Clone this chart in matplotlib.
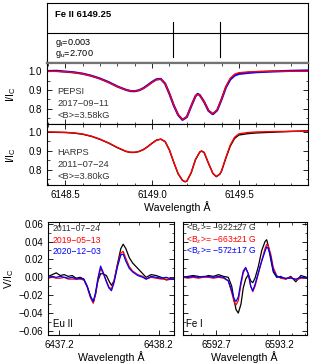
import matplotlib
matplotlib.use("Agg")
import matplotlib.pyplot as plt
import matplotlib as mpl
from matplotlib.ticker import MultipleLocator, NullFormatter

mpl.rcParams.update({
    "font.family": ["Liberation Sans", "DejaVu Sans"],
    "mathtext.fontset": "custom",
    "mathtext.rm": "Liberation Sans",
    "mathtext.it": "Liberation Sans",
    "font.size": 7,
    "axes.linewidth": 0.8,
    "xtick.direction": "in",
    "ytick.direction": "in",
    "xtick.top": True,
    "ytick.right": True,
    "xtick.major.size": 3.5,
    "ytick.major.size": 3.5,
    "xtick.minor.size": 1.8,
    "ytick.minor.size": 1.8,
    "xtick.major.width": 0.6,
    "ytick.major.width": 0.6,
    "xtick.minor.width": 0.5,
    "ytick.minor.width": 0.5,
    "xtick.labelsize": 7,
    "ytick.labelsize": 7,
    "axes.labelsize": 7.7,
})

# ------------------- data -------------------
zeeman_marks = [6149.122, 6149.392]

wl_pepsi = [6148.40, 6148.45, 6148.50, 6148.55, 6148.60, 6148.65, 6148.70, 6148.75,
            6148.80, 6148.85, 6148.875, 6148.90, 6148.925, 6148.95, 6148.975, 6149.00,
            6149.025, 6149.05, 6149.075, 6149.10, 6149.125, 6149.15, 6149.175, 6149.20,
            6149.225, 6149.25, 6149.2625, 6149.275, 6149.30, 6149.325, 6149.35, 6149.375,
            6149.40, 6149.425, 6149.45, 6149.475, 6149.50, 6149.55, 6149.60, 6149.65,
            6149.70, 6149.80, 6149.90]
model_pepsi = [1.000, 0.999, 0.997, 0.993, 0.986, 0.975, 0.960, 0.940,
               0.918, 0.901, 0.896, 0.895, 0.899, 0.909, 0.924, 0.941,
               0.955, 0.958, 0.935, 0.882, 0.820, 0.770, 0.744, 0.758,
               0.815, 0.869, 0.878, 0.872, 0.838, 0.792, 0.774, 0.795,
               0.852, 0.918, 0.962, 0.984, 0.992, 0.996, 0.998, 0.999,
               1.000, 1.000, 1.000]
obs_pepsi = [1.001, 1.002, 0.998, 0.994, 0.987, 0.976, 0.961, 0.942,
             0.919, 0.901, 0.895, 0.894, 0.899, 0.910, 0.926, 0.943,
             0.957, 0.959, 0.934, 0.880, 0.818, 0.768, 0.742, 0.757,
             0.814, 0.868, 0.880, 0.873, 0.837, 0.790, 0.772, 0.793,
             0.850, 0.914, 0.956, 0.977, 0.986, 0.991, 0.995, 0.997,
             0.999, 1.002, 1.004]

wl_harps = [6148.40, 6148.50, 6148.55, 6148.60, 6148.65, 6148.70, 6148.75, 6148.80,
            6148.85, 6148.875, 6148.90, 6148.925, 6148.95, 6148.975, 6149.00, 6149.025,
            6149.05, 6149.075, 6149.10, 6149.125, 6149.15, 6149.175, 6149.19, 6149.20,
            6149.225, 6149.25, 6149.275, 6149.285, 6149.30, 6149.325, 6149.35, 6149.37,
            6149.39, 6149.40, 6149.425, 6149.45, 6149.475, 6149.50, 6149.55, 6149.60,
            6149.70, 6149.80, 6149.90]
model_harps = [1.000, 0.998, 0.995, 0.989, 0.978, 0.962, 0.942, 0.918,
               0.898, 0.893, 0.893, 0.897, 0.907, 0.922, 0.940, 0.956,
               0.962, 0.950, 0.905, 0.840, 0.780, 0.745, 0.738, 0.741,
               0.785, 0.855, 0.895, 0.900, 0.892, 0.835, 0.782, 0.765,
               0.778, 0.795, 0.865, 0.930, 0.972, 0.990, 0.997, 1.000,
               1.002, 1.003, 1.004]
obs_harps = [0.999, 0.997, 0.994, 0.988, 0.977, 0.961, 0.941, 0.917,
             0.897, 0.892, 0.892, 0.897, 0.907, 0.923, 0.941, 0.957,
             0.962, 0.949, 0.904, 0.839, 0.779, 0.744, 0.737, 0.740,
             0.784, 0.854, 0.894, 0.899, 0.891, 0.834, 0.781, 0.764,
             0.777, 0.793, 0.862, 0.925, 0.966, 0.984, 0.991, 0.995,
             0.999, 1.003, 1.006]

wl_eu = [6437.09, 6437.13, 6437.17, 6437.21, 6437.25, 6437.29, 6437.33, 6437.37,
         6437.41, 6437.447, 6437.481, 6437.515, 6437.542, 6437.565, 6437.589, 6437.616,
         6437.64, 6437.674, 6437.70, 6437.725, 6437.751, 6437.786, 6437.819, 6437.843,
         6437.87, 6437.904, 6437.938, 6437.989, 6438.04, 6438.073, 6438.124, 6438.175,
         6438.225, 6438.276, 6438.327, 6438.354]
v_eu_2011 = [0.001, 0.003, 0.005, 0.002, 0.003, 0.001, 0.002, -0.001,
             0.000, -0.002, -0.010, -0.021, -0.028, -0.019, -0.004, 0.004,
             0.004, 0.002, -0.004, -0.009, -0.004, 0.015, 0.032, 0.037,
             0.032, 0.022, 0.016, 0.010, 0.004, 0.000, 0.003, 0.002,
             0.000, -0.003, -0.002, -0.002]
v_eu_2019 = [-0.001, 0.000, -0.001, -0.001, 0.000, -0.002, -0.002, -0.002,
             -0.002, -0.003, -0.011, -0.023, -0.029, -0.019, -0.003, 0.010,
             0.005, -0.004, -0.011, -0.013, -0.004, 0.014, 0.027, 0.029,
             0.021, 0.012, 0.007, 0.003, 0.001, -0.002, 0.000, -0.001,
             -0.002, -0.002, -0.002, -0.001]
v_eu_2020 = [0.000, 0.001, 0.000, 0.001, 0.000, -0.001, 0.000, -0.002,
             -0.001, -0.002, -0.010, -0.022, -0.027, -0.017, -0.001, 0.0125,
             0.006, -0.005, -0.012, -0.015, -0.006, 0.012, 0.025, 0.026,
             0.018, 0.010, 0.006, 0.002, 0.000, -0.002, 0.001, 0.000,
             -0.001, 0.000, -0.002, -0.002]

wl_fe = [6592.44, 6592.48, 6592.52, 6592.56, 6592.60, 6592.64, 6592.68, 6592.72,
         6592.76, 6592.797, 6592.824, 6592.842, 6592.858, 6592.876, 6592.897, 6592.915,
         6592.934, 6592.955, 6592.974, 6592.99, 6593.008, 6593.034, 6593.061, 6593.087,
         6593.10, 6593.113, 6593.132, 6593.152, 6593.179, 6593.21, 6593.25, 6593.29,
         6593.33, 6593.37, 6593.416]
v_fe_2011 = [0.000, 0.001, 0.002, 0.001, 0.000, 0.002, 0.001, 0.003,
             0.001, 0.000, -0.010, -0.025, -0.036, -0.040, -0.030, -0.012,
             -0.002, 0.003, -0.004, -0.006, -0.001, 0.012, 0.030, 0.040,
             0.042, 0.035, 0.020, 0.006, 0.000, 0.001, -0.002, 0.001,
             -0.005, 0.002, 0.000]
v_fe_2019 = [0.000, -0.001, 0.000, -0.001, 0.000, 0.000, -0.001, 0.000,
             -0.001, -0.004, -0.017, -0.027, -0.031, -0.026, -0.008, 0.005,
             0.010, 0.004, -0.010, -0.016, -0.010, 0.004, 0.019, 0.032,
             0.037, 0.035, 0.026, 0.011, 0.002, -0.001, -0.002, 0.000,
             -0.003, -0.001, -0.001]
v_fe_2020 = [0.001, 0.000, 0.001, 0.000, 0.001, 0.001, 0.000, 0.001,
             0.000, -0.004, -0.015, -0.024, -0.027, -0.022, -0.005, 0.007,
             0.011, 0.004, -0.010, -0.015, -0.008, 0.005, 0.018, 0.029,
             0.034, 0.032, 0.023, 0.008, 0.001, 0.000, -0.001, -0.001,
             -0.002, 0.000, -0.001]

dates = ["2011\u221207\u221224", "2019\u221205\u221213", "2020\u221212\u221203"]
bz_labels = ["\u2212922\u00b127 G", "\u2212663\u00b121 G", "\u2212572\u00b117 G"]
colors = ["black", "red", "blue"]
TXT = "0.2"

# ------------------- figure -------------------
fig = plt.figure(figsize=(3.12, 3.63), dpi=100)
W, H = 312.0, 363.0

def box(x0, y0, x1, y1):
    return [x0 / W, 1 - y1 / H, (x1 - x0) / W, (y1 - y0) / H]

ax0 = fig.add_axes(box(46.7, 3.3, 308, 63.3))
ax1 = fig.add_axes(box(46.7, 63.3, 308, 124))
ax2 = fig.add_axes(box(46.7, 124, 308, 185))
ax3 = fig.add_axes(box(48.3, 222.3, 174, 335))
ax4 = fig.add_axes(box(182.7, 222.3, 306.7, 335))

XL = (6148.393, 6149.898)

# header box with Zeeman components
ax0.set_xlim(*XL)
ax0.set_ylim(0, 1)
ax0.set_xticks([]); ax0.set_yticks([])
ax0.axhline(0.5, color="black", lw=0.8)
for w in zeeman_marks:
    ax0.axvline(w, ymin=0.10, ymax=0.693, color="black", lw=0.8)
ax0.spines["bottom"].set_color("0.45")
ax0.spines["bottom"].set_linewidth(1.6)
ax0.text(0.032, 0.82, "Fe II 6149.25", transform=ax0.transAxes, fontsize=6.8,
         fontweight="bold", va="center", ha="left")
ax0.text(0.032, 0.335, r"g$_\mathrm{l}$=0.003", transform=ax0.transAxes, fontsize=6.6,
         va="center", ha="left")
ax0.text(0.032, 0.15, r"g$_\mathrm{u}$=2.700", transform=ax0.transAxes, fontsize=6.6,
         va="center", ha="left")

# intensity panels
for ax, wl, obs, mod, oc, olw, lines in [
        (ax1, wl_pepsi, obs_pepsi, model_pepsi, "blue", 1.6,
         ["PEPSI", "2017\u221209\u221211", "<B>=3.58kG"]),
        (ax2, wl_harps, obs_harps, model_harps, "black", 1.0,
         ["HARPS", "2011\u221207\u221224", "<B>=3.80kG"])]:
    ax.plot(wl, obs, color=oc, lw=olw)
    ax.plot(wl, mod, color="red", lw=1.0)
    ax.set_xlim(*XL)
    ax.set_ylim(0.72, 1.042)
    ax.xaxis.set_major_locator(MultipleLocator(0.5))
    ax.xaxis.set_minor_locator(MultipleLocator(0.1))
    ax.yaxis.set_major_locator(MultipleLocator(0.1))
    ax.yaxis.set_minor_locator(MultipleLocator(0.05))
    ax.set_ylabel(r"I/I$_\mathrm{C}$")
    ax.yaxis.set_label_coords(-0.108, 0.5)
    for k, s in enumerate(lines):
        ax.text(0.04, 0.53 - 0.198 * k, s, transform=ax.transAxes, color=TXT,
                fontsize=6.7, va="center", ha="left")
ax1.spines["top"].set_color("0.45")
ax1.spines["top"].set_linewidth(1.6)
ax1.xaxis.set_major_formatter(NullFormatter())
ax2.set_xlabel("Wavelength \u00c5", labelpad=1)

# Stokes V panels
for ax, wl, series, xl in [
        (ax3, wl_eu, [v_eu_2011, v_eu_2019, v_eu_2020], (6437.09, 6438.354)),
        (ax4, wl_fe, [v_fe_2011, v_fe_2019, v_fe_2020], (6592.437, 6593.416))]:
    for v, c in zip(series, colors):
        ax.plot(wl, v, color=c, lw=0.9)
    ax.set_xlim(*xl)
    ax.set_ylim(-0.0645, 0.0615)
    ax.yaxis.set_major_locator(MultipleLocator(0.02))
    ax.yaxis.set_minor_locator(MultipleLocator(0.01))
    ax.set_xlabel("Wavelength \u00c5", labelpad=1)

ax3.set_xticks([6437.2, 6438.2])
ax3.xaxis.set_minor_locator(MultipleLocator(0.2))
ax3.set_xticklabels(["6437.2", "6438.2"])
ax3.set_yticks([-0.06, -0.04, -0.02, 0.0, 0.02, 0.04, 0.06])
ax3.set_yticklabels(["\u22120.06", "\u22120.04", "\u22120.02", "0.00", "0.02", "0.04", "0.06"])
ax3.set_ylabel(r"V/I$_\mathrm{C}$")
ax3.yaxis.set_label_coords(-0.255, 0.5)
ax4.set_xticks([6592.7, 6593.2])
ax4.xaxis.set_minor_locator(MultipleLocator(0.1))
ax4.set_xticklabels(["6592.7", "6593.2"])
ax4.yaxis.set_major_formatter(NullFormatter())

for k, (d, c) in enumerate(zip(dates, colors)):
    ax3.text(0.03, 0.945 - 0.103 * k, d, transform=ax3.transAxes,
             color=c if c != "black" else TXT, fontsize=6.2, va="center", ha="left")
for k, (b, c) in enumerate(zip(bz_labels, colors)):
    ax4.text(0.027, 0.945 - 0.103 * k, r"<B$_\mathrm{z}$>= " + b, transform=ax4.transAxes,
             color=c if c != "black" else TXT, fontsize=6.2, va="center", ha="left")
ax3.text(0.035, 0.095, "Eu II", transform=ax3.transAxes, fontsize=7, va="center", ha="left")
ax4.text(0.025, 0.095, "Fe I", transform=ax4.transAxes, fontsize=7, va="center", ha="left")

fig.savefig("out.png", dpi=100)
